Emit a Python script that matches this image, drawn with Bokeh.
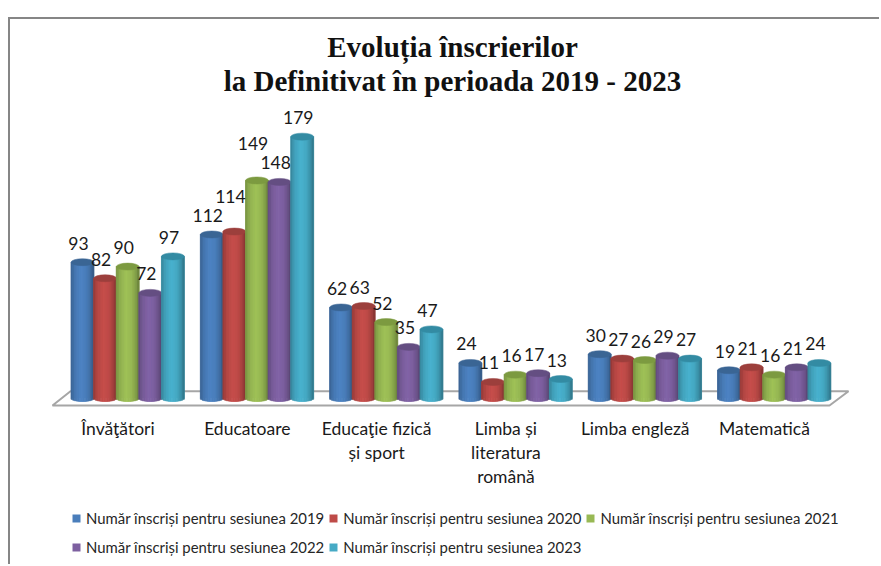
from bokeh.plotting import figure
from bokeh.embed import file_html
from bokeh.resources import INLINE
from bokeh.models import Range1d, Legend, LegendItem, Title
from bokeh.core.properties import value
import math

categories = ["Învăţători", "Educatoare", "Educaţie fizică\nși sport",
              "Limba și\nliteratura\nromână", "Limba engleză", "Matematică"]
series_names = ["Număr înscriși pentru sesiunea 2019", "Număr înscriși pentru sesiunea 2020",
                "Număr înscriși pentru sesiunea 2021", "Număr înscriși pentru sesiunea 2022",
                "Număr înscriși pentru sesiunea 2023"]
s2019 = [93, 112, 62, 24, 30, 19]
s2020 = [82, 114, 63, 11, 27, 21]
s2021 = [90, 149, 52, 16, 26, 16]
s2022 = [72, 148, 35, 17, 29, 21]
s2023 = [97, 179, 47, 13, 27, 24]
series = [s2019, s2020, s2021, s2022, s2023]
colors = ["#4A7EBB", "#BE4B48", "#98B954", "#7D60A0", "#46AAC5"]
tops = ["#3A6594", "#9C3F3C", "#7C9A40", "#644E82", "#338BA3"]
title_lines = ["Evoluția înscrierilor", "la Definitivat în perioada 2019 - 2023"]

FONT = "Lato"
PX_X = 129.3
PX_Y = 1.46
BASE = 397.5
CAT0 = 118.5
FRAME_TOP = 100
FRAME_BOTTOM = 566
FRAME_LEFT = 23
LABEL_LIFT = {(1, 1): 16, (2, 1): 18}  # (series, category): labels moved up to clear neighbours

p = figure(width=871, height=547, output_backend="svg", toolbar_location=None,
           x_range=Range1d((FRAME_LEFT - CAT0) / PX_X, (881 - CAT0) / PX_X),
           y_range=Range1d((BASE - FRAME_BOTTOM) / PX_Y, (BASE - FRAME_TOP) / PX_Y),
           min_border_left=13, min_border_right=0, min_border_top=81, min_border_bottom=0,
           margin=(17, 0, 0, 8),
           styles={"border-left": "2px solid #868686", "border-top": "2px solid #868686"})
p.outline_line_color = None
p.grid.visible = False
p.xaxis.visible = False
p.yaxis.visible = False
p.background_fill_color = "white"

for line, st in zip(reversed(title_lines), (8, -9)):
    p.add_layout(Title(text=line, align="center", text_font="Liberation Serif",
                       text_font_size="29px", text_font_style="bold", text_color="#111111",
                       text_line_height=1.0, standoff=st), "above")

# floor of the chart, a flat parallelogram below the columns
fy0 = (BASE - 405) / PX_Y
fy1 = (BASE - 390.7) / PX_Y
fx = [(x - CAT0) / PX_X for x in (52, 70, 848, 829)]
p.patch(fx, [fy0, fy1, fy1, fy0], fill_color=None, line_color="#A6A6A6", line_width=2)

STEP = 22.6 / PX_X
OFF0 = (82 - CAT0) / PX_X
W = 22.9 / PX_X
EH = 3.5 / PX_Y
STRIPS = 14
PROFILE = [(-1, .78), (-.6, .96), (-.1, 1.05), (.35, 1.0), (.75, .86), (1, .68)]


def shade(hexc, u):
    for (a, fa), (b, fb) in zip(PROFILE, PROFILE[1:]):
        if a <= u <= b:
            f = fa + (fb - fa) * (u - a) / (b - a)
            break
    rgb = [int(hexc[i:i + 2], 16) for i in (1, 3, 5)]
    return "#%02x%02x%02x" % tuple(min(255, int(c * f)) for c in rgb)


items = []
for k, vals in enumerate(series):
    xs = [i + OFF0 + k * STEP for i in range(len(vals))]
    body = p.quad(left=[x - W / 2 for x in xs], right=[x + W / 2 for x in xs],
                  bottom=[0] * len(vals), top=vals, fill_color=colors[k], line_color=None)
    items.append(LegendItem(label=series_names[k], renderers=[body]))
    l, r, b, t, c = [], [], [], [], []
    for x, v in zip(xs, vals):
        for s in range(STRIPS):
            u0 = -1 + 2 * s / STRIPS
            u1 = -1 + 2 * (s + 1) / STRIPS
            um = (u0 + u1) / 2
            l.append(x + u0 * W / 2)
            r.append(x + u1 * W / 2)
            b.append(-EH * math.sqrt(1 - um * um))
            t.append(v)
            c.append(shade(colors[k], um))
    p.quad(left=l, right=r, bottom=b, top=t, fill_color=c, line_color=c, line_width=0.8)
    p.ellipse(x=xs, y=vals, width=W, height=2 * EH, fill_color=tops[k], line_color=tops[k],
              line_width=0.5)

for k, vals in enumerate(series):
    xs = [i + OFF0 + k * STEP for i in range(len(vals))]
    offs = [-19 - LABEL_LIFT.get((k, i), 0) for i in range(len(vals))]
    p.text(x=xs, y=vals, text=[str(v) for v in vals], x_offset=-4, y_offset=offs,
           text_align="center", text_baseline="middle", text_font=value(FONT),
           text_font_size="17.5px", text_color="#1a1a1a")

p.text(x=list(range(len(categories))), y=[0] * len(categories), text=categories,
       x_offset=-1, y_offset=19.5,
       text_align="center", text_baseline="top", text_font=value(FONT),
       text_font_size="17.5px", text_color="#1a1a1a", text_line_height=1.157)

legend = Legend(items=items, ncols=3, location=(48, 7), orientation="horizontal",
                border_line_color=None, background_fill_alpha=0,
                glyph_width=10, glyph_height=10, label_standoff=5, spacing=4,
                label_height=25, padding=3, margin=0,
                label_text_font=FONT, label_text_font_size="14.9px", label_text_color="#262626")
p.add_layout(legend)

open("out.html", "w").write(file_html(p, INLINE))
